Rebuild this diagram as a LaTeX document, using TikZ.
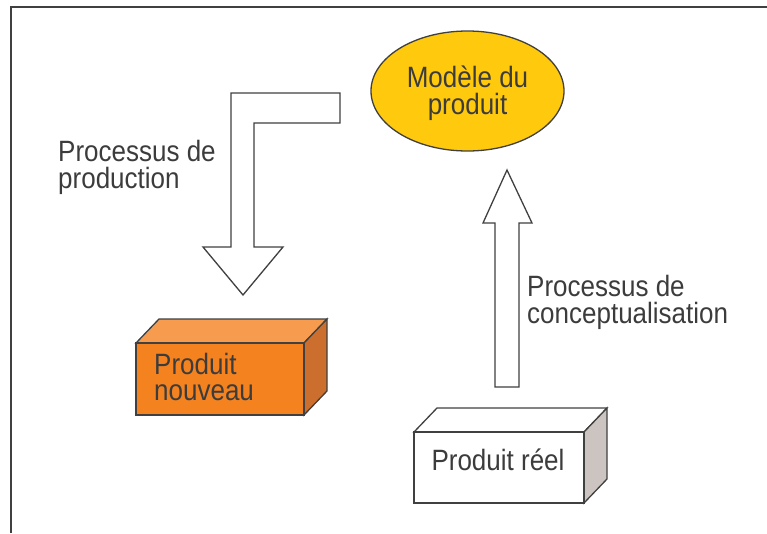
\documentclass[tikz,border=0pt]{standalone}
\usepackage{fontspec}
\setmainfont{Liberation Sans}
\usetikzlibrary{shapes.geometric}
\definecolor{ln}{HTML}{404040}
\definecolor{txtc}{HTML}{3C3C3C}
\definecolor{ellfill}{HTML}{FFC90E}
\definecolor{orfront}{HTML}{F4821F}
\definecolor{ortop}{HTML}{F79B4E}
\definecolor{orside}{HTML}{CC6E2D}
\definecolor{whside}{HTML}{CCC4C0}
\begin{document}
\begin{tikzpicture}[x=1pt,y=-1pt,
  outl/.style={draw=ln, line width=1.3pt, line join=miter},
  txt/.style={font=\fontsize{26}{23.5}\selectfont, text=txtc, inner sep=0pt, yscale=1.13, transform shape},
  frame/.style={draw=ln, line width=2pt}]
\useasboundingbox (0,0) rectangle (767,533);
% frame (top and left edges)
\draw[frame] (11,533) -- (11,7) -- (767,7);

% ellipse: model of the product
\node[ellipse, outl, fill=ellfill, minimum width=193pt, minimum height=120pt, inner sep=0pt] (model) at (467.5,91) {};
\node[txt, align=center] (modeltxt) at (467.5,93.4) {\fontsize{26}{25.7}\selectfont Modèle du\\produit};

% L-shaped arrow: production process
\draw[outl, fill=white] (231,93) -- (340,93) -- (340,123) -- (254,123) -- (254,247) -- (283,247) -- (243,295) -- (203,247) -- (231,247) -- cycle;
\node[txt, align=left, anchor=west] (prodlbl) at (58,167.4) {Processus de\\production};

% orange box: new product
\draw[outl, fill=ortop] (136,343) -- (159,319) -- (327,319) -- (304,343) -- cycle;
\draw[outl, fill=orside] (304,343) -- (327,319) -- (327,391) -- (304,415) -- cycle;
\draw[outl, fill=orfront] (136,343) rectangle (304,415);
\node[txt, align=left, anchor=west] (newprod) at (154,376.8) {\fontsize{26}{25.5}\selectfont Produit\\nouveau};

% up arrow: conceptualisation process
\draw[outl, fill=white] (495,387) -- (495,223) -- (483,223) -- (507,170) -- (532,223) -- (519,223) -- (519,387) -- cycle;
\node[txt, align=left, anchor=west] (conclbl) at (527,302.4) {Processus de\\conceptualisation};

% white box: real product
\draw[outl, fill=white] (414,432) -- (437,408) -- (607,408) -- (584,432) -- cycle;
\draw[outl, fill=whside] (584,432) -- (607,408) -- (607,479) -- (584,503) -- cycle;
\draw[outl, fill=white] (414,432) rectangle (584,503);
\node[txt, anchor=base] (realprod) at (498,470) {Produit réel};
\end{tikzpicture}
\end{document}
